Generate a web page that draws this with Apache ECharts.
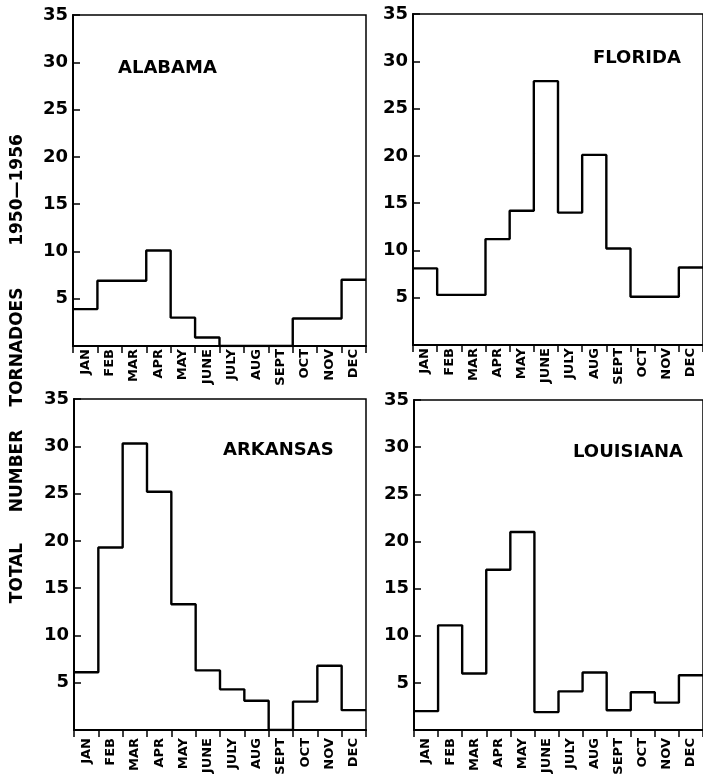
<!DOCTYPE html>
<html>
<head>
<meta charset="utf-8">
<script src="https://cdn.jsdelivr.net/npm/echarts@6/dist/echarts.min.js"></script>
<style>
html,body{margin:0;padding:0;background:#fff;}
#chart{width:703px;height:778px;}
</style>
</head>
<body>
<div id="chart"></div>
<script>
const months = ['JAN','FEB','MAR','APR','MAY','JUNE','JULY','AUG','SEPT','OCT','NOV','DEC'];
const yTicks = [5, 10, 15, 20, 25, 30, 35];
const alabama   = [3.9, 6.9, 6.9, 10.1, 3.0, 0.9, 0, 0, 0, 2.9, 2.9, 7.0];
const florida   = [8.1, 5.3, 5.3, 11.2, 14.2, 27.9, 14.0, 20.1, 10.2, 5.1, 5.1, 8.2];
const arkansas  = [6.1, 19.3, 30.3, 25.2, 13.3, 6.3, 4.3, 3.1, 0, 3.0, 6.8, 2.1];
const louisiana = [2.0, 11.1, 6.0, 17.0, 21.0, 1.9, 4.1, 6.1, 2.1, 4.0, 2.9, 5.8];
const states = ['ALABAMA', 'FLORIDA', 'ARKANSAS', 'LOUISIANA'];
const axisTitle = ['TOTAL', 'NUMBER', 'TORNADOES', '1950\u20141956'];

const FONT = 'DejaVu Sans';
const panels = [
  {name: states[0], vals: alabama,   grid: {left: 73,  top: 15,  width: 293, height: 331}, tx: 118, ty: 68,  lm: 3},
  {name: states[1], vals: florida,   grid: {left: 413, top: 14,  width: 292, height: 331}, tx: 593, ty: 58,  lm: 3},
  {name: states[2], vals: arkansas,  grid: {left: 74,  top: 399, width: 292, height: 331}, tx: 223, ty: 450, lm: 8},
  {name: states[3], vals: louisiana, grid: {left: 414, top: 400, width: 291, height: 330}, tx: 573, ty: 452, lm: 8}
];

const grids = [], xAxes = [], yAxes = [], series = [], graphics = [];
panels.forEach((p, k) => {
  grids.push(Object.assign({show: true, borderColor: '#000', borderWidth: 1.5, backgroundColor: 'transparent'}, p.grid));
  xAxes.push({
    type: 'category', gridIndex: k, data: months, boundaryGap: true, position: 'bottom',
    axisLine: {show: true, lineStyle: {color: '#000', width: 2}},
    axisTick: {show: true, inside: false, length: 7, interval: 0, lineStyle: {color: '#000', width: 1.5}},
    axisLabel: {show: true, interval: 0, rotate: 90, margin: p.lm, color: '#000',
      fontFamily: FONT, fontWeight: 'bold', fontSize: 13},
    splitLine: {show: false}
  });
  xAxes.push({type: 'value', gridIndex: k, min: 0, max: 12, show: false});
  yAxes.push({
    type: 'value', gridIndex: k, min: 0, max: 35, interval: 5,
    axisLine: {show: true, lineStyle: {color: '#000', width: 2}},
    axisTick: {show: true, inside: true, length: 7, lineStyle: {color: '#000', width: 1.5}},
    axisLabel: {show: true, margin: 5, color: '#000', fontFamily: FONT, fontWeight: 'bold', fontSize: 18,
      formatter: v => (yTicks.indexOf(v) >= 0 ? String(v) : '')},
    splitLine: {show: false}
  });
  const pts = p.vals.map((v, i) => [i, v]);
  pts.push([12, p.vals[p.vals.length - 1]]);
  series.push({
    type: 'line', xAxisIndex: 2 * k + 1, yAxisIndex: k, step: 'end', data: pts,
    symbol: 'none', lineStyle: {color: '#000', width: 2.4}, silent: true, animation: false
  });
  graphics.push({type: 'text', x: p.tx, y: p.ty,
    style: {text: p.name, fill: '#000', font: 'bold 18px "' + FONT + '"', align: 'left', verticalAlign: 'middle'}});
});

const titleCenters = [573, 471, 347, 190];
axisTitle.forEach((t, i) => {
  graphics.push({type: 'text', x: 18, y: titleCenters[i], rotation: Math.PI / 2,
    style: {text: t, fill: '#000', font: 'bold 17px "' + FONT + '"', align: 'center', verticalAlign: 'middle'}});
});

const chart = echarts.init(document.getElementById('chart'), null, {renderer: 'canvas'});
chart.setOption({
  backgroundColor: '#fff',
  animation: false,
  grid: grids,
  xAxis: xAxes,
  yAxis: yAxes,
  series: series,
  graphic: graphics
});
</script>
</body>
</html>
